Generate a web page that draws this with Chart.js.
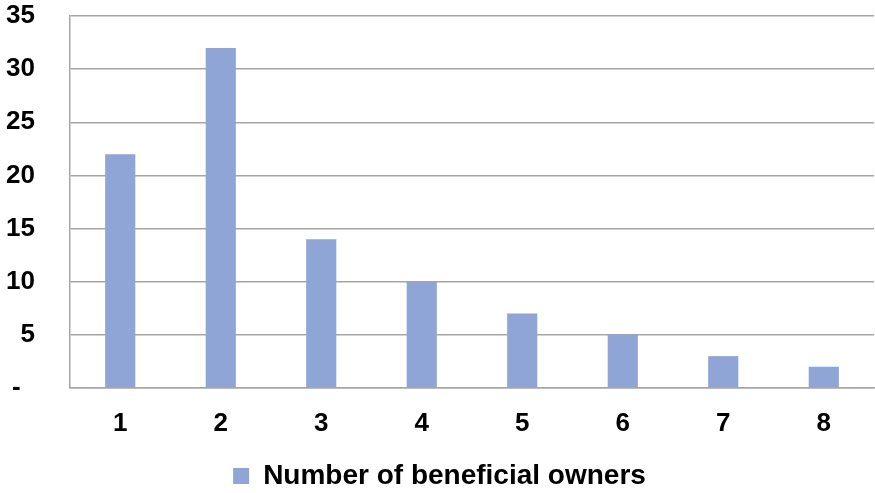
<!DOCTYPE html>
<html><head><meta charset="utf-8">
<script src="https://cdn.jsdelivr.net/npm/chart.js@4/dist/chart.umd.min.js"></script>
<style>html,body{margin:0;padding:0;background:#fff}#wrap{width:875px;height:493px}</style>
</head><body><div id="wrap"><canvas id="c"></canvas></div>
<script>
const categories = ["1","2","3","4","5","6","7","8"];
const owners = [22, 32, 14, 10, 7, 5, 3, 2];
const seriesName = "Number of beneficial owners";
const yTicks = [0,5,10,15,20,25,30,35];

const FONT = "'Liberation Sans', Arial, sans-serif";
new Chart(document.getElementById('c'), {
  type: 'bar',
  data: { labels: categories, datasets: [{ label: seriesName, data: owners, backgroundColor: '#8FA5D5', barPercentage: 0.6, categoryPercentage: 0.5 }] },
  options: {
    responsive: true, maintainAspectRatio: false, animation: false,
    layout: { padding: { top: 6, right: 1, left: 5, bottom: -7 } },
    plugins: {
      legend: { position: 'bottom', labels: { color: '#000', font: { family: FONT, size: 28, weight: 'bold' }, boxWidth: 16, boxHeight: 16, padding: 4 } },
      tooltip: { enabled: false }
    },
    scales: {
      x: {
        grid: { display: false, drawTicks: false },
        border: { display: true, color: '#A6A6A6', width: 1.5 },
        ticks: { color: '#000', font: { family: FONT, size: 26, weight: 'bold' }, padding: 20 },
        afterFit: (ax) => { ax.height = 70; }
      },
      y: {
        min: 0, max: 35,
        afterBuildTicks: (ax) => { ax.ticks = yTicks.map(v => ({ value: v })); },
        grid: { color: '#A6A6A6', lineWidth: 1.5, drawTicks: false },
        border: { display: true, color: '#A6A6A6', width: 1.5 },
        ticks: { color: '#000', font: { family: FONT, size: 26, weight: 'bold' }, padding: 35, callback: (v) => v === 0 ? '-  ' : String(v) },
        afterFit: (ax) => { ax.width = 65; ax.paddingTop = 16; ax.paddingBottom = 0; }
      }
    }
  }
});
</script></body></html>
